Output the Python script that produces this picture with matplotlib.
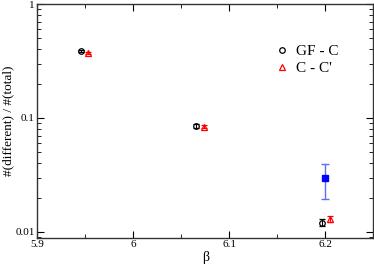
import numpy as np
import matplotlib
matplotlib.use('Agg')
import matplotlib.pyplot as plt
from matplotlib.lines import Line2D
from matplotlib.ticker import LogLocator, NullFormatter, FixedLocator

plt.rcParams['font.family'] = ['Liberation Serif', 'DejaVu Serif']

# GF - C
beta_gf = [5.945, 6.065, 6.197]
val_gf = [0.387, 0.085, 0.0121]
err_gf = [0.008, 0.003, 0.0008]

# C - C'
beta_cc = [5.953, 6.074, 6.205]
val_cc = [0.370, 0.084, 0.0130]
err_cc = [0.007, 0.002, 0.0008]

# extra point
beta_b = [6.2]
val_b = [0.0295]
err_b = [0.0099]

fig = plt.figure(figsize=(3.74, 2.68), dpi=100)
ax = fig.add_axes([0.1, 0.113, 0.897, 0.872])

ax.errorbar(beta_gf, val_gf, yerr=err_gf, fmt='o', mfc='none', mec='black', ecolor='black',
            ms=4, mew=0.9, elinewidth=0.8, capsize=2)
ax.errorbar(beta_cc, val_cc, yerr=err_cc, fmt='^', mfc='none', mec='red', ecolor='red',
            ms=4, mew=0.9, elinewidth=0.8, capsize=2)
ax.errorbar(beta_b, val_b, yerr=err_b, fmt='s', color='blue', ecolor='#5b6cff',
            ms=5, elinewidth=1.0, capsize=3)

ax.set_yscale('log')
ax.set_xlim(5.9, 6.25)
ax.set_ylim(0.0089, 1)
ax.xaxis.set_major_locator(FixedLocator([5.9, 6.0, 6.1, 6.2]))
ax.xaxis.set_minor_locator(FixedLocator([5.95, 6.05, 6.15, 6.25]))
ax.set_xticklabels(['5.9', '6', '6.1', '6.2'])
ax.yaxis.set_major_locator(FixedLocator([0.01, 0.1, 1]))
ax.set_yticklabels(['0.01', '0.1', '1'])
ax.yaxis.set_minor_locator(LogLocator(base=10, subs=np.arange(2, 10)))
ax.yaxis.set_minor_formatter(NullFormatter())

ax.tick_params(which='both', direction='in', top=True, right=True, labelsize=8, pad=2)
ax.tick_params(which='major', length=5, width=0.8)
ax.tick_params(which='minor', length=3, width=0.6)
for s in ax.spines.values():
    s.set_linewidth(1.0)
    s.set_color('#333333')

ax.set_xlabel('β', fontsize=10, labelpad=1)
ax.set_ylabel('#(different) / #(total)', fontsize=9.5, labelpad=1)

handles = [Line2D([], [], ls='none', marker='o', mfc='none', mec='black', ms=4, mew=0.9),
           Line2D([], [], ls='none', marker='^', mfc='none', mec='red', ms=4, mew=0.9)]
ax.legend(handles, ['GF - C', "C - C'"], loc='upper left', bbox_to_anchor=(0.665, 0.885),
          frameon=False, fontsize=11, handletextpad=0.4, handlelength=1.0, labelspacing=0.2)

fig.savefig('out.png', dpi=100)
